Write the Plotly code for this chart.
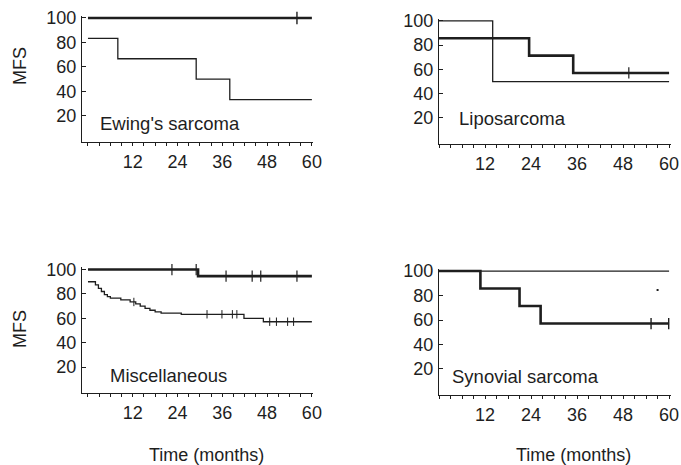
import plotly.graph_objects as go

W, H = 681, 465

# ---------------- data ----------------
ewing_thin_t = [0, 8, 29, 38, 60]
ewing_thin_v = [83.3, 66.7, 50, 33.3, 33.3]
ewing_thick_t = [0, 60]
ewing_thick_v = [100, 100]
ewing_thick_cens_t = [56]
ewing_thick_cens_v = [100]

lipo_thin_t = [0, 14, 60]
lipo_thin_v = [100, 50, 50]
lipo_thick_t = [0, 23.5, 35, 60]
lipo_thick_v = [85.7, 71.4, 57.1, 57.1]
lipo_thick_cens_t = [49.5]
lipo_thick_cens_v = [57.1]

misc_thin_t = [0, 2.0, 2.8, 3.6, 4.4, 5.2, 6.0, 8.8, 11.3, 12.8, 14.0, 15.3, 16.6, 18.0, 19.6, 25.0, 41.8, 47.0, 60]
misc_thin_v = [90, 87.5, 84.5, 82, 79.5, 77.8, 76.5, 75.2, 73.4, 71.8, 70, 68.2, 66.6, 65.3, 64.3, 63.3, 60, 57.2, 57.2]
misc_thin_cens_t = [12.3, 31.9, 35.9, 38.7, 39.9, 48.7, 50.5, 53.5, 55.1]
misc_thin_cens_v = [73.4, 63.3, 63.3, 63.3, 63.3, 57.2, 57.2, 57.2, 57.2]
misc_thick_t = [0, 29.5, 60]
misc_thick_v = [100, 94.6, 94.6]
misc_thick_cens_t = [22.5, 29.0, 37, 44, 46.3, 56]
misc_thick_cens_v = [100, 100, 94.6, 94.6, 94.6, 94.6]

syn_thin_t = [0, 60]
syn_thin_v = [100, 100]
syn_thin_dot_t = [57]
syn_thin_dot_v = [84.5]
syn_thick_t = [0, 10.8, 21, 26.5, 60]
syn_thick_v = [100, 85.7, 71.4, 57.1, 57.1]
syn_thick_cens_t = [55.3, 59.9]
syn_thick_cens_v = [57.1, 57.1]

x_tickvals = [12, 24, 36, 48, 60]
x_ticktext = ["12", "24", "36", "48", "60"]
y_tickvals = [20, 40, 60, 80, 100]
y_ticktext = ["20", "40", "60", "80", "100"]

panel_names = ["Ewing's sarcoma", "Liposarcoma", "Miscellaneous", "Synovial sarcoma"]

# ---------------- layout geometry (pixels) ----------------
panels = [
    dict(xd=(82, 313), xr=[-1.6, 60.3], yd=(15.5, 142.3), yr=[-1.5, 102]),
    dict(xd=(439, 671), xr=[0, 60.5], yd=(18.5, 144.0), yr=[-1.5, 102]),
    dict(xd=(82, 313), xr=[-1.6, 60.3], yd=(267.1, 393.3), yr=[-1.5, 102]),
    dict(xd=(439, 671), xr=[0, 60.5], yd=(268.6, 395.3), yr=[-1.5, 102]),
]

INK = "#1e1e1e"
FONT = "Liberation Sans, Arial, sans-serif"
FS = 18
FS_LAB = 18.5


def fx(px):
    return px / W


def fy(py):
    return 1 - py / H


fig = go.Figure()


def add_step(i, t, v, width):
    sfx = "" if i == 0 else str(i + 1)
    fig.add_trace(go.Scatter(x=t, y=v, mode="lines", line=dict(shape="hv", color=INK, width=width),
                             xaxis="x" + sfx, yaxis="y" + sfx, showlegend=False, hoverinfo="skip",
                             cliponaxis=False))


def add_cens(i, t, v, size, width, symbol="line-ns"):
    sfx = "" if i == 0 else str(i + 1)
    fig.add_trace(go.Scatter(x=t, y=v, mode="markers",
                             marker=dict(symbol=symbol, size=size, color=INK, line=dict(color=INK, width=width)),
                             xaxis="x" + sfx, yaxis="y" + sfx, showlegend=False, hoverinfo="skip",
                             cliponaxis=False))


add_step(0, ewing_thin_t, ewing_thin_v, 1.3)
add_step(0, ewing_thick_t, ewing_thick_v, 2.6)
add_cens(0, ewing_thick_cens_t, ewing_thick_cens_v, 9, 1.4)

add_step(1, lipo_thin_t, lipo_thin_v, 1.3)
add_step(1, lipo_thick_t, lipo_thick_v, 2.6)
add_cens(1, lipo_thick_cens_t, lipo_thick_cens_v, 8, 1.2)

add_step(2, misc_thin_t, misc_thin_v, 1.3)
add_cens(2, misc_thin_cens_t, misc_thin_cens_v, 6, 1.0)
add_step(2, misc_thick_t, misc_thick_v, 2.6)
add_cens(2, misc_thick_cens_t, misc_thick_cens_v, 8, 1.2)

add_step(3, syn_thin_t, syn_thin_v, 1.3)
add_cens(3, syn_thin_dot_t, syn_thin_dot_v, 2, 0, symbol="square")
add_step(3, syn_thick_t, syn_thick_v, 2.6)
add_cens(3, syn_thick_cens_t, syn_thick_cens_v, 8, 1.4)

layout = dict(
    template="none",
    width=W, height=H, autosize=False,
    margin=dict(l=0, r=0, t=0, b=0, pad=0),
    paper_bgcolor="white", plot_bgcolor="white",
    font=dict(family=FONT, size=FS, color=INK),
    showlegend=False,
)

for i, p in enumerate(panels):
    sfx = "" if i == 0 else str(i + 1)
    xd = [fx(p["xd"][0]), fx(p["xd"][1])]
    yd = [fy(p["yd"][1]), fy(p["yd"][0])]
    layout["xaxis" + sfx] = dict(
        domain=xd, range=p["xr"], anchor="y" + sfx, automargin=False,
        showgrid=False, zeroline=False, showline=True, linecolor=INK, linewidth=1.2,
        tickvals=x_tickvals, ticktext=x_ticktext, ticks="outside", ticklen=3, tickwidth=1,
        tickcolor=INK, tickfont=dict(size=FS, color=INK, family=FONT),
        minor=dict(dtick=3, tick0=0, ticks="outside", ticklen=3, tickwidth=0.8, tickcolor=INK, showgrid=False),
        ticklabelstandoff=0, fixedrange=True,
    )
    layout["yaxis" + sfx] = dict(
        domain=yd, range=p["yr"], anchor="x" + sfx, automargin=False,
        showgrid=False, zeroline=False, showline=True, linecolor=INK, linewidth=1.2,
        tickvals=y_tickvals, ticktext=y_ticktext, ticks="inside", ticklen=4, tickwidth=1,
        tickcolor=INK, tickfont=dict(size=FS, color=INK, family=FONT),
        ticklabelstandoff=1, fixedrange=True,
    )

fig.update_layout(**layout)

label_pos = [(98, 123), (457, 118), (108, 375), (450, 376)]
for name, (lx, ly) in zip(panel_names, label_pos):
    fig.add_annotation(text=name, x=fx(lx), y=fy(ly), xref="paper", yref="paper",
                       xanchor="left", yanchor="middle", showarrow=False,
                       font=dict(size=FS_LAB, color=INK, family=FONT))

for my in (66, 329):
    fig.add_annotation(text="MFS", x=fx(20), y=fy(my), xref="paper", yref="paper",
                       xanchor="center", yanchor="middle", showarrow=False, textangle=-90,
                       font=dict(size=FS, color=INK, family=FONT))

for tx in (207, 573):
    fig.add_annotation(text="Time (months)", x=fx(tx), y=fy(455), xref="paper", yref="paper",
                       xanchor="center", yanchor="middle", showarrow=False,
                       font=dict(size=FS, color=INK, family=FONT))

# remove the browser's default page margin so the figure fills the window exactly
fig.write_html(
    "out.html",
    config={"displayModeBar": False},
    post_script="document.body.style.margin='0';document.documentElement.style.overflow='hidden';",
)
